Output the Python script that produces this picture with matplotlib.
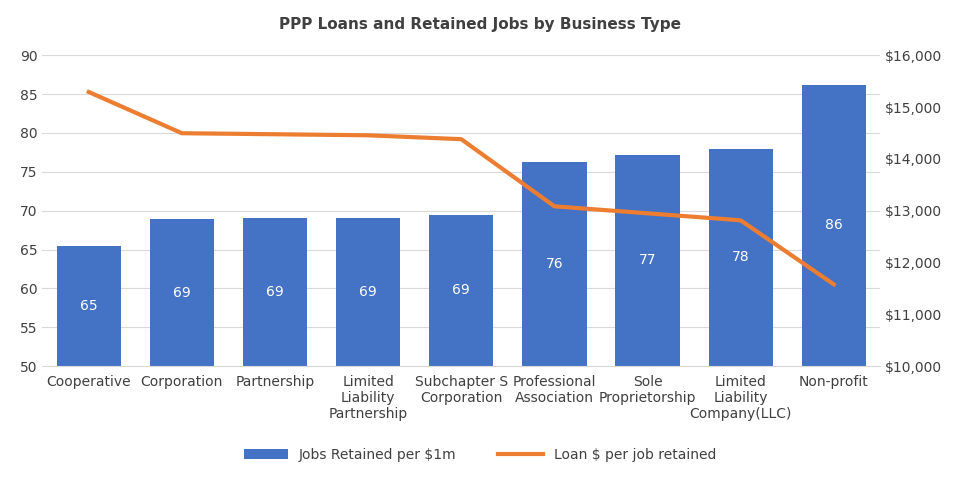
import matplotlib
matplotlib.use("Agg")
import matplotlib.pyplot as plt
from matplotlib.ticker import FuncFormatter

categories = ["Cooperative", "Corporation", "Partnership", "Limited\nLiability\nPartnership",
              "Subchapter S\nCorporation", "Professional\nAssociation", "Sole\nProprietorship",
              "Limited\nLiability\nCompany(LLC)", "Non-profit"]
jobs_per_1m = [65.4, 68.9, 69.0, 69.0, 69.5, 76.3, 77.2, 78.0, 86.2]
jobs_labels = [65, 69, 69, 69, 69, 76, 77, 78, 86]
loan_per_job = [15290, 14495, 14475, 14455, 14380, 13085, 12950, 12815, 11580]

fig = plt.figure(figsize=(9.6, 4.8), dpi=100)
ax = fig.add_axes([0.044, 0.237, 0.873, 0.648])
ax2 = ax.twinx()
x = range(len(categories))
bars = ax.bar(x, [v - 50 for v in jobs_per_1m], bottom=50, width=0.69, color="#4472C4",
              label="Jobs Retained per $1m", zorder=2)
for i, (v, l) in enumerate(zip(jobs_per_1m, jobs_labels)):
    ax.text(i, (50 + v) / 2, str(l), ha="center", va="center", color="white", fontsize=10)
ax2.plot(x, loan_per_job, color="#ED7D31", lw=3, label="Loan $ per job retained", zorder=3)

ax.set_ylim(50, 90)
ax.set_yticks(range(50, 91, 5))
ax2.set_ylim(10000, 16000)
ax2.set_yticks(range(10000, 16001, 1000))
ax2.yaxis.set_major_formatter(FuncFormatter(lambda v, p: f"${v:,.0f}"))
ax.set_xlim(-0.5, len(categories) - 0.5)
ax.set_xticks(list(x))
ax.set_xticklabels(categories, fontsize=10, color="#404040", va="top")
ax.grid(axis="y", color="#D9D9D9", lw=0.8, zorder=0)
ax.set_axisbelow(True)
for a in (ax, ax2):
    for s in a.spines.values():
        s.set_visible(False)
    a.tick_params(length=0, labelsize=10, labelcolor="#404040")
ax.spines["bottom"].set_visible(True)
ax.spines["bottom"].set_color("#D9D9D9")
ax.tick_params(axis="x", pad=6)

fig.suptitle("PPP Loans and Retained Jobs by Business Type", y=0.965, fontsize=11,
             fontweight="bold", color="#404040")
h1, l1 = ax.get_legend_handles_labels()
h2, l2 = ax2.get_legend_handles_labels()
fig.legend(h1 + h2, l1 + l2, loc="center", bbox_to_anchor=(0.5, 0.052), ncol=2,
           frameon=False, fontsize=10, columnspacing=3, handlelength=3.2)
for t in fig.legends[0].get_texts():
    t.set_color("#404040")
fig.savefig("out.png", dpi=100)
